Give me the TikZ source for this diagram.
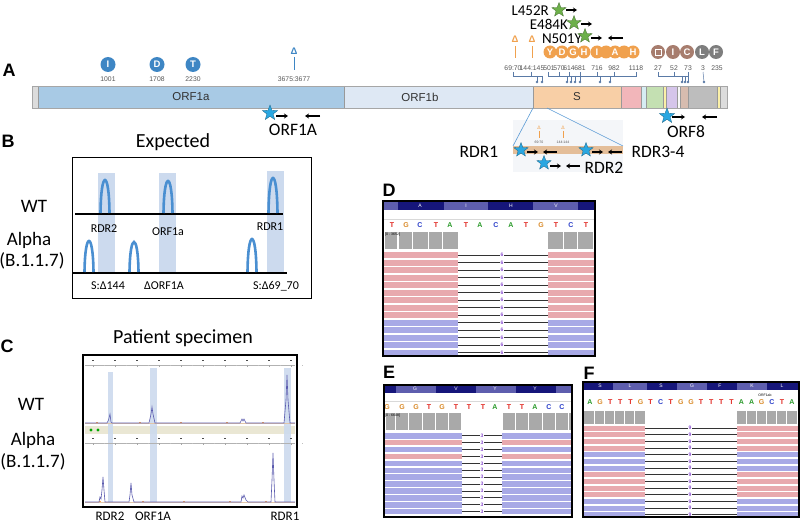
\documentclass[tikz,border=0pt]{standalone}
\usepackage{fontspec}
\setmainfont{Carlito}
\newfontfamily\arialf{Liberation Sans}
\usetikzlibrary{shapes.geometric,arrows.meta}
\definecolor{orfa}{HTML}{A8CAE5}
\definecolor{orfb}{HTML}{DEE8F4}
\definecolor{spk}{HTML}{F8CFA6}
\definecolor{gpink}{HTML}{F2B6BA}
\definecolor{glb}{HTML}{D6EDF3}
\definecolor{ggreen}{HTML}{C4E0B2}
\definecolor{gyel}{HTML}{FBF0A8}
\definecolor{gpur}{HTML}{D5C5EA}
\definecolor{gbrn}{HTML}{D7BCAF}
\definecolor{ggry}{HTML}{BDBDBD}
\definecolor{glgry}{HTML}{DCDCDC}
\definecolor{mblue}{HTML}{3E86C4}
\definecolor{morange}{HTML}{F0A14E}
\definecolor{mbrown}{HTML}{A77D6E}
\definecolor{mgrey}{HTML}{7E7E7E}
\definecolor{starblue}{HTML}{2AA7E1}
\definecolor{stargreen}{HTML}{6DB04A}
\definecolor{peakblue}{HTML}{4A8FD1}
\definecolor{shadec}{HTML}{CCDAEE}
\definecolor{tracec}{HTML}{5A5AAE}
\definecolor{navy}{HTML}{16167A}
\definecolor{lnavy}{HTML}{5E5EAE}
\definecolor{rp}{HTML}{E8A9AE}
\definecolor{rb}{HTML}{A8A9E6}
\definecolor{bT}{HTML}{E0231C}
\definecolor{bG}{HTML}{DA8B2A}
\definecolor{bC}{HTML}{2B3FC9}
\definecolor{bA}{HTML}{2A9A2A}
\definecolor{cov}{HTML}{A9A9A9}
\definecolor{numg}{HTML}{555555}
\definecolor{brkc}{HTML}{5A7AA6}
\definecolor{beige}{HTML}{EAE7D4}
\definecolor{insetbg}{HTML}{F4F6F9}
\definecolor{lineblue}{HTML}{5B9BD5}
\definecolor{inscol}{HTML}{8A4FD0}
\begin{document}
\begin{tikzpicture}[x=1pt,y=-1pt,
  panel/.style={font=\arialf\bfseries\fontsize{18}{18}\selectfont, inner sep=0},
  mc/.style={circle, minimum size=13pt, inner sep=0, text=white, font=\arialf\bfseries\fontsize{9.5}{9.5}\selectfont},
  posn/.style={font=\arialf\fontsize{6.8}{6.8}\selectfont, text=numg, inner sep=0},
  seglab/.style={font=\arialf\fontsize{11.5}{11.5}\selectfont, text=black!80, inner sep=0},
  primer/.style={-{Stealth[length=4pt,width=5pt]}, line width=1.4pt},
  bstar/.style={star, star points=5, star point ratio=2.4, minimum size=16pt, inner sep=0, fill=starblue, draw=starblue!60!black, line width=0.3pt},
  gstar/.style={bstar, minimum size=15pt, fill=stargreen, draw=stargreen!60!black},
  big/.style={font=\fontsize{17.5}{17.5}\selectfont, inner sep=0},
  mut/.style={font=\fontsize{15}{15}\selectfont, inner sep=0},
  ttl/.style={font=\fontsize{20}{20}\selectfont, inner sep=0},
  rowlab/.style={font=\fontsize{19}{19}\selectfont, inner sep=0},
  blab/.style={font=\fontsize{12}{12}\selectfont, inner sep=0},
  clab/.style={font=\fontsize{13}{13}\selectfont, inner sep=0},
  pk/.style={peakblue, line width=2.6pt},
  trc/.style={tracec, line width=0.6pt},
  brk/.style={brkc, line width=0.5pt},
  hdr/.style={font=\arialf\fontsize{5}{5}\selectfont, text=white, inner sep=0},
  bse/.style={font=\arialf\bfseries\fontsize{7}{7}\selectfont, inner sep=0},
  ins/.style={font=\arialf\bfseries\fontsize{5}{5}\selectfont, text=inscol, inner sep=0.4pt, fill=white},
  delt/.style={font=\arialf\bfseries\fontsize{9.5}{9.5}\selectfont, inner sep=0},
  tiny/.style={font=\arialf\fontsize{3.5}{3.5}\selectfont, inner sep=0},
]
\useasboundingbox (0,0) rectangle (800,524);

%%%%%%%%%%%%%%%% Panel A %%%%%%%%%%%%%%%%
\node[panel] (lA) at (9,70) {A};
\fill[glgry] (32,86) rectangle (38,108);
\fill[orfa] (38,86) rectangle (344,108);
\fill[orfb] (344,86) rectangle (533,108);
\fill[spk] (533,86) rectangle (621,108);
\fill[gpink] (621,86) rectangle (641,108);
\fill[glb] (641,86) rectangle (646,108);
\fill[ggreen] (646,86) rectangle (663,108);
\fill[gyel] (663,86) rectangle (666,108);
\fill[gpur] (666,86) rectangle (677,108);
\fill[black!3] (677,86) rectangle (680,108);
\fill[gbrn] (680,86) rectangle (688,108);
\fill[ggry] (688,86) rectangle (717,108);
\fill[gyel] (717,86) rectangle (720,108);
\fill[glgry] (720,86) rectangle (727,108);
\foreach \x in {38,344,533,621,641,646,663,666,677,680,688,717,720}
  \draw[gray!80, line width=0.5pt] (\x,86) -- (\x,108);
\draw[gray!70, line width=0.6pt] (32,86) rectangle (727,108);
\node[seglab] (orf1a) at (191,97) {ORF1a};
\node[seglab] (orf1b) at (420,97) {ORF1b};
\node[seglab] (sgene) at (577,97) {S};

% ORF1a mutations
\node[mc, fill=mblue, minimum size=15pt] (mI) at (108,64.5) {I};
\node[mc, fill=mblue, minimum size=15pt] (mD) at (157,64.5) {D};
\node[mc, fill=mblue, minimum size=15pt] (mT) at (193,64.5) {T};
\node[posn] (p1001) at (108,79.5) {1001};
\node[posn] (p1708) at (157,79.5) {1708};
\node[posn] (p2230) at (193,79.5) {2230};
\node[delt, text=mblue] (dorf) at (294,51) {Δ};
\draw[mblue, line width=0.8pt] (294,57) -- (294,70);
\node[posn] (p3675) at (294,79.5) {3675:3677};

% S mutations
\node[delt, text=morange] (ds1) at (515,39) {Δ};
\node[delt, text=morange] (ds2) at (532,39) {Δ};
\draw[morange, line width=0.9pt] (515,46) -- (515,58);
\draw[morange, line width=0.9pt] (532,46) -- (532,58);
\foreach \x in {550,562,573,584,597,606,615,624,633}
  \fill[morange] (\x,52) circle (6.5pt);
\foreach \l/\x [count=\i] in {Y/550,D/562,G/573,H/584,I/597,A/615,H/633}
  \node[mc] (sm\i) at (\x,52) {\l};
\foreach \tx/\x [count=\i] in {69:70/513,144:145/532,501/549,570/559,614/569,681/580,716/597,982/614,1118/636}
  \node[posn] (sp\i) at (\x,68) {\tx};

% accessory mutations
\foreach \c/\x/\l [count=\i] in {mbrown/658/{},mbrown/673/I,mbrown/687/C,mgrey/702/L,mgrey/716/F}
  \node[mc, fill=\c, minimum size=14pt] (om\i) at (\x,52) {\l};
\draw[white, line width=0.8pt] (655,49) rectangle (661,55);
\foreach \tx/\x [count=\i] in {27/658,52/674,73/688,3/703,235/717}
  \node[posn] (op\i) at (\x,68) {\tx};

% brackets
\draw[brk] (513,72) -- (513,76) -- (542,76);
\draw[brk] (531,72) -- (531,76);
\draw[brk] (537,76) -- (537,82);
\draw[brk] (542,76) -- (542,82);
\draw[brk] (548,72) -- (548,76) -- (636,76) -- (636,72);
\foreach \x in {559,569,580,597,614} \draw[brk] (\x,72) -- (\x,76);
\foreach \x in {567,571,575,580,600,610} \draw[brk] (\x,76) -- (\x,82);
\draw[brk] (658,72) -- (658,76) -- (688,76) -- (688,72);
\draw[brk] (674,72) -- (674,76);
\foreach \x in {682,685,688} \draw[brk] (\x,76) -- (\x,82);
\draw[brk] (703,72) -- (704,82);
\foreach \x in {537,542,567,571,575,580,600,610,682,685,688,704}
  \fill[brkc] (\x,82) circle (1.3pt);

% spike mutation stars
\node[mut, anchor=east] (tL452R) at (549,11) {L452R};
\node[gstar] (sL452R) at (559,10) {};
\draw[primer] (566,10) -- (577,10);
\node[mut, anchor=east] (tE484K) at (568,24) {E484K};
\node[gstar] (sE484K) at (574,23) {};
\draw[primer] (581,24) -- (592,24);
\node[mut, anchor=east] (tN501Y) at (582,39) {N501Y};
\node[gstar] (sN501Y) at (585,36) {};
\draw[primer] (591,38) -- (602,38);
\draw[primer] (623,38) -- (608,38);

% ORF1A and ORF8 primers
\node[bstar] (sORF1A) at (270,113) {};
\draw[primer] (276,116) -- (288,116);
\draw[primer] (320,116) -- (305,116);
\node[big] (tORF1A) at (293,130) {ORF1A};
\node[bstar] (sORF8) at (667,116) {};
\draw[primer] (672,117) -- (685,117);
\draw[primer] (717,117) -- (702,117);
\node[big] (tORF8) at (686,132) {ORF8};

% S inset
\fill[insetbg] (513,120) rectangle (623,172);
\draw[lineblue, line width=0.6pt] (533,108) -- (513,146);
\draw[lineblue, line width=0.6pt] (547,108) -- (623,146);
\fill[spk!92!black] (513,146) rectangle (623,154);
\node[font=\arialf\fontsize{5}{5}\selectfont, text=morange, inner sep=0] (di1) at (539,128) {Δ};
\node[font=\arialf\fontsize{5}{5}\selectfont, text=morange, inner sep=0] (di2) at (563,128) {Δ};
\draw[morange, line width=0.6pt] (539,131) -- (539,138);
\draw[morange, line width=0.6pt] (563,131) -- (563,138);
\node[tiny, text=numg] (ni1) at (539,142) {69:70};
\node[tiny, text=numg] (ni2) at (563,142) {144:144};
\node[bstar, minimum size=15pt] (sRDR1) at (521,150) {};
\draw[primer] (527,152) -- (538,152);
\draw[primer] (557,152) -- (543,152);
\node[bstar, minimum size=15pt] (sRDR34) at (586,150) {};
\draw[primer] (592,152) -- (603,152);
\draw[primer] (622,152) -- (608,152);
\node[bstar, minimum size=15pt] (sRDR2) at (544,163) {};
\draw[primer] (550,166) -- (561,166);
\draw[primer] (580,166) -- (566,166);
\node[big] (tRDR1) at (479,152) {RDR1};
\node[big] (tRDR34) at (658,152) {RDR3-4};
\node[big] (tRDR2) at (604,168) {RDR2};

%%%%%%%%%%%%%%%% Panel B %%%%%%%%%%%%%%%%
\node[panel] (lB) at (8,141) {B};
\node[ttl] (tB) at (173,142) {Expected};
\draw[line width=0.8pt] (72,157) rectangle (311,298);
\fill[shadec] (98,173) rectangle (115,272);
\fill[shadec] (159,173) rectangle (176,272);
\fill[shadec] (267,171) rectangle (284,272);
\draw[line width=2.4pt] (75,214) -- (283,214);
\draw[line width=2.4pt] (73,273) -- (287,273);
\foreach \cx/\by/\ay in {105/213/180,168/213/181,273/213/178,89/272/241,134/272/242,252/272/239}{
  \pgfmathsetmacro\cy{\ay-(\by-\ay)/3}
  \draw[pk] (\cx-4.5,\by) .. controls (\cx-4,\cy) and (\cx+4,\cy) .. (\cx+4.5,\by);
}
\node[blab] (bRDR2) at (104,229) {RDR2};
\node[blab] (bORF1a) at (168,232) {ORF1a};
\node[blab] (bRDR1) at (270,227) {RDR1};
\node[blab] (bD144) at (108,286) {S:Δ144};
\node[blab] (bDORF) at (164,286) {ΔORF1A};
\node[blab] (bD6970) at (276,286) {S:Δ69\_70};
\node[rowlab] (wtB) at (34,206) {WT};
\node[rowlab] (alB) at (29,240) {Alpha};
\node[rowlab] (vB) at (32,261) {(B.1.1.7)};

%%%%%%%%%%%%%%%% Panel C %%%%%%%%%%%%%%%%
\node[panel] (lC) at (7,346) {C};
\node[ttl] (tC) at (183,338) {Patient specimen};
\fill[white] (83,355) rectangle (297,507);
\fill[beige] (85,426) rectangle (295,434);
\fill[shadec, opacity=0.9] (108,372) rectangle (113,502);
\fill[shadec, opacity=0.9] (150,368) rectangle (157,502);
\fill[shadec, opacity=0.9] (284,368) rectangle (291,502);
\fill[green!65!black] (91,430) circle (1.6pt);
\fill[green!65!black] (98,430) circle (1.6pt);
\foreach \ya in {365,443}{
  \draw[gray!60, line width=0.5pt] (85,\ya) -- (295,\ya);
  \foreach \x in {93,115,137,159,181,203,225,247,269,291}{
    \fill[gray!60!black] (\x-1,\ya-5) rectangle (\x+1,\ya-3.8);
    \draw[gray!70, line width=0.4pt] (\x,\ya) -- (\x,\ya+2);
    \draw[gray!50, line width=0.3pt] (\x+11,\ya) -- (\x+11,\ya+1.2);
  }
}
\draw[brown!45, line width=0.4pt] (85,423.5) -- (295,423.5);
\draw[brown!45, line width=0.4pt] (85,502.5) -- (295,502.5);
\foreach \x in {96,139,180,226,262} {
  \draw[orange!70, line width=0.4pt] (\x,422.5) -- (\x+2,422.5);
  \draw[orange!70, line width=0.4pt] (\x+3,501.5) -- (\x+5,501.5);
}
\draw[trc] (85,423) -- (107,423) -- (108.5,420) -- (110,414) -- (111,422) -- (112,423)
  -- (149,423) -- (151,414) -- (152,407) -- (153,414) -- (155,423)
  -- (240,423) -- (242,419) -- (243,421) -- (244,419) -- (246,423)
  -- (284,423) -- (286,400) -- (287,375) -- (288,400) -- (290,423) -- (295,423);
\draw[trc] (85,502) -- (99,502) -- (100,497) -- (101,499) -- (102,490) -- (103,477) -- (104,490) -- (105,502)
  -- (129,502) -- (130,495) -- (131,483) -- (132,495) -- (134,502)
  -- (241,502) -- (242,496) -- (243,498) -- (244,495) -- (246,500) -- (248,502)
  -- (271,502) -- (272,480) -- (273,453) -- (274,480) -- (275,502) -- (295,502);
\draw[line width=1.3pt] (83,355) rectangle (297,507);
\node[clab] (cRDR2) at (110,516.5) {RDR2};
\node[clab] (cORF1A) at (153,516.5) {ORF1A};
\node[clab] (cRDR1) at (285,516.5) {RDR1};
\node[rowlab] (wtC) at (31,404) {WT};
\node[rowlab] (alC) at (33,440) {Alpha};
\node[rowlab] (vC) at (33,462) {(B.1.1.7)};

%%%%%%%%%%%%%%%% Panel D %%%%%%%%%%%%%%%%
\node[panel] (lD) at (389,190) {D};
\fill[white] (383,201) rectangle (595,356);
\fill[lnavy] (383,201) rectangle (398,210);
\fill[navy] (398,201) rectangle (444,210);
\fill[lnavy] (444,201) rectangle (488,210);
\fill[navy] (488,201) rectangle (533,210);
\fill[lnavy] (533,201) rectangle (578,210);
\fill[navy] (578,201) rectangle (595,210);
\node[hdr] (dhA) at (420,205.5) {A};
\node[hdr] (dhI) at (466,205.5) {I};
\node[hdr] (dhH) at (511,205.5) {H};
\node[hdr] (dhV) at (556,205.5) {V};
\draw[gray!30, line width=0.5pt] (383,219) -- (595,219);
\foreach \b/\x [count=\i] in {T/392,G/406,C/420,T/436,A/450,T/466,A/480,C/496,A/511,T/526,G/541,T/556,C/571,T/586}
  \node[bse, text=b\b] (db\i) at (\x,225) {\b};
\foreach \a/\b in {385/397,399/412,413/428,429/442,443/458,548/563,564/577,578/593}
  \fill[cov] (\a,232) rectangle (\b,249);
\node[tiny, anchor=north west] (dcov) at (385,233) {[0 - 3652]};
\foreach \c [count=\i from 0] in {rp,rp,rp,rp,rp,rp,rp,rp,rp,rb,rb,rb,rb,rb}{
  \pgfmathsetmacro\yt{252+7.5*\i}
  \fill[\c] (384,\yt) rectangle (458,\yt+6);
  \fill[\c] (548,\yt) rectangle (594,\yt+6);
  \draw[black!80, line width=0.8pt] (458,\yt+3) -- (548,\yt+3);
  \node[ins] (dsix\i) at (502,\yt+3) {6};
}
\draw[line width=1.2pt] (383,201) rectangle (595,356);

%%%%%%%%%%%%%%%% Panel E %%%%%%%%%%%%%%%%
\node[panel] (lE) at (389,372) {E};
\fill[white] (384,385) rectangle (572,517);
\fill[navy] (384,385) rectangle (396,393);
\fill[lnavy] (396,385) rectangle (436,393);
\fill[navy] (436,385) rectangle (476,393);
\fill[lnavy] (476,385) rectangle (516,393);
\fill[navy] (516,385) rectangle (556,393);
\fill[lnavy] (556,385) rectangle (572,393);
\node[hdr] (ehG) at (415,389) {G};
\node[hdr] (ehV) at (456,389) {V};
\node[hdr] (ehY1) at (495,389) {Y};
\node[hdr] (ehY2) at (535,389) {Y};
\draw[gray!30, line width=0.5pt] (384,401) -- (572,401);
\foreach \b/\x [count=\i] in {G/387,G/402,G/416,T/429,G/442,T/456,T/469,T/483,A/495,T/509,T/522,A/535,C/549,C/562}
  \node[bse, text=b\b] (eb\i) at (\x,407) {\b};
\foreach \a/\b in {386/395,396/408,409/422,423/435,436/448,449/461,503/515,516/528,529/542,543/555,556/568,569/571}
  \fill[cov] (\a,413) rectangle (\b,430);
\node[tiny, anchor=north west] (ecov) at (385,414) {[0 - 6608]};
\foreach \c [count=\i from 0] in {rb,rp,rb,rp,rb,rb,rb,rb,rb,rb,rb,rb}{
  \pgfmathsetmacro\yt{433+6.9*\i}
  \fill[\c] (385,\yt) rectangle (462,\yt+5.5);
  \fill[\c] (502,\yt) rectangle (571,\yt+5.5);
  \draw[black!80, line width=0.8pt] (462,\yt+2.75) -- (502,\yt+2.75);
  \node[ins] (ethree\i) at (482,\yt+2.75) {3};
}
\draw[line width=1.2pt] (384,385) rectangle (572,517);

%%%%%%%%%%%%%%%% Panel F %%%%%%%%%%%%%%%%
\node[panel] (lF) at (589,373) {F};
\fill[white] (583,382) rectangle (799,517);
\fill[navy] (583,382) rectangle (613,390);
\fill[lnavy] (613,382) rectangle (647,390);
\fill[navy] (647,382) rectangle (677,390);
\fill[lnavy] (677,382) rectangle (707,390);
\fill[navy] (707,382) rectangle (737,390);
\fill[lnavy] (737,382) rectangle (767,390);
\fill[navy] (767,382) rectangle (799,390);
\foreach \l/\x [count=\i] in {S/600,L/630,S/661,G/692,F/720,K/752,L/782}
  \node[hdr] (fh\i) at (\x,386) {\l};
\node[tiny] (forf) at (765,395) {ORF1ab};
\foreach \b [count=\i from 0] in {A,G,T,T,T,G,T,C,T,G,G,T,T,T,T,A,A,G,C,T,A}{
  \pgfmathsetmacro\xb{590+10.1*\i}
  \node[bse, text=b\b] (fb\i) at (\xb,402) {\b};
}
\foreach \a/\b in {584/594,595/604,605/614,615/624,625/634,635/645,737/746,747/756,757/766,767/776,777/786,787/797}
  \fill[cov] (\a,411) rectangle (\b,424);
\foreach \c [count=\i from 0] in {rp,rp,rp,rp,rb,rb,rb,rp,rp,rp,rp,rb,rb,rb}{
  \pgfmathsetmacro\yt{425.5+6.67*\i}
  \fill[\c] (584,\yt) rectangle (645,\yt+5);
  \fill[\c] (737,\yt) rectangle (798,\yt+5);
  \draw[black!80, line width=0.8pt] (645,\yt+2.5) -- (737,\yt+2.5);
  \node[ins] (fnine\i) at (690,\yt+2.5) {9};
}
\draw[line width=1.2pt] (583,382) rectangle (799,517);
\end{tikzpicture}
\end{document}
